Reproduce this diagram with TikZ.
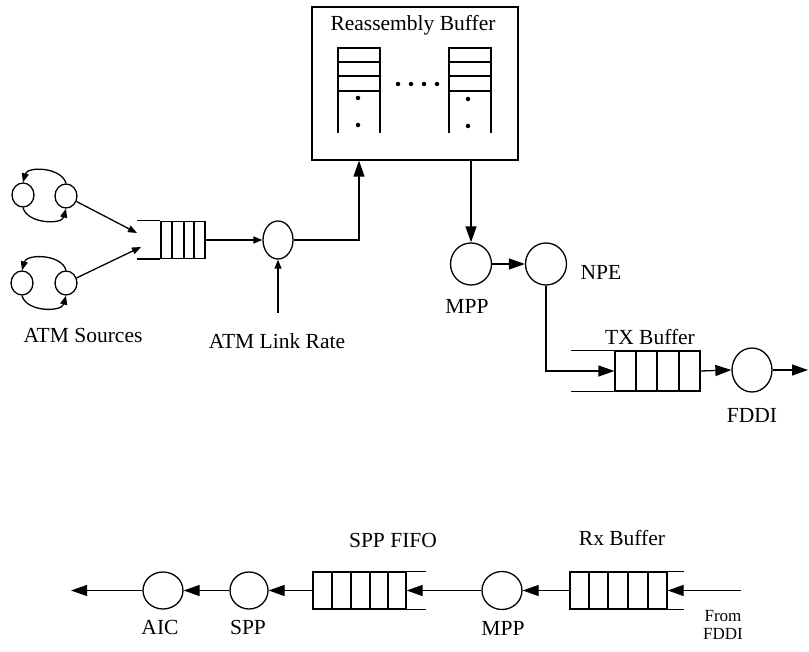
\documentclass[tikz,border=0pt]{standalone}
\usepackage{fontspec}
\setmainfont{Liberation Serif}
\usetikzlibrary{arrows.meta,shapes.geometric}
\begin{document}
\begin{tikzpicture}[x=1pt,y=-1pt,line width=1.3pt,
  arr/.style={-{Triangle[length=16pt,width=11pt]}},
  arrs/.style={-{Triangle[length=9pt,width=7pt]}},
  srv/.style={draw,ellipse,inner sep=0pt,minimum width=40pt,minimum height=40pt},
  srcnode/.style={draw,ellipse,inner sep=0pt,minimum width=22pt,minimum height=24pt},
  qbox/.style={draw,inner sep=0pt},
  lbl/.style={inner sep=0pt,font=\fontsize{21.5}{23}\selectfont},
  lblsmall/.style={inner sep=0pt,font=\fontsize{17}{18}\selectfont},
  dotmark/.style={circle,fill,inner sep=0pt,minimum size=4.5pt}]
\useasboundingbox (0,0) rectangle (809,652);

% ---------- ATM sources ----------
\node[srcnode] (s1a) at (23,195) {};
\node[srcnode] (s1b) at (66,196) {};
\node[srcnode] (s2a) at (22,283) {};
\node[srcnode] (s2b) at (66,283) {};
\draw[arrs] (s1b.north) to[out=105,in=75] (s1a.north);
\draw[arrs] (s1a.south) to[out=-75,in=-105] (s1b.south);
\draw[arrs] (s2b.north) to[out=105,in=75] (s2a.north);
\draw[arrs] (s2a.south) to[out=-75,in=-105] (s2b.south);
\node[lbl] (atms) at (83,335) {ATM Sources};

% ---------- ATM cell queue ----------
\node[qbox,minimum width=44pt,minimum height=37pt] (q1) at (183,240) {};
\foreach \x in {172,184,194} \draw (\x,221.5) -- (\x,258.5);
\draw (q1.north west) -- ++(-23,0);
\draw (q1.south west) -- ++(-23,0);
\coordinate (m1) at (137,233);
\coordinate (m2) at (141,247);
\draw[arrs] (s1b) -- (m1);
\draw[arrs] (s2b) -- (m2);

% ---------- ATM link server ----------
\node[srv,minimum width=30pt,minimum height=38pt] (lnk) at (278,240) {};
\draw[arrs] (q1.east) -- (lnk.west);
\coordinate (lr) at (278,313);
\draw[arrs] (lr) -- (lnk.south);
\node[lbl] (lrl) at (277,341) {ATM Link Rate};

% ---------- Reassembly buffer ----------
\node[draw,inner sep=0pt,minimum width=206pt,minimum height=153pt] (rb) at (415,83.5) {};
\node[lbl] (rbt) at (413,25) {Reassembly Buffer};
% left stack
\draw (338,133) -- (338,48) -- (380,48) -- (380,133);
\foreach \y in {62,76,91} \draw (338,\y) -- (380,\y);
\node[dotmark] (d1) at (358,98) {};
\node[dotmark] (d2) at (358,125) {};
% right stack
\draw (449,133) -- (449,48) -- (491,48) -- (491,133);
\foreach \y in {62,76,91} \draw (449,\y) -- (491,\y);
\node[dotmark] (d3) at (468,99) {};
\node[dotmark] (d4) at (468,126) {};
% dots between stacks
\foreach \x in {398,411,424,437} \node[dotmark] at (\x,84) {};
\draw[arr] (lnk.east) -| ([xshift=-56pt]rb.south);

% ---------- MPP / NPE ----------
\node[srv,minimum width=41pt,minimum height=42pt] (mpp1) at (471,264) {};
\node[srv,minimum width=41pt,minimum height=42pt] (npe) at (546,264) {};
\draw[arr] ([xshift=56pt]rb.south) -- (mpp1.north);
\draw[arr] (mpp1) -- (npe);
\node[lbl] (mppl) at (467,306) {MPP};
\node[lbl] (npel) at (601,272) {NPE};

% ---------- TX buffer ----------
\node[qbox,minimum width=85pt,minimum height=40pt] (q2) at (657.5,371) {};
\foreach \x in {636,657,679} \draw (\x,351) -- (\x,391);
\draw (q2.north west) -- ++(-43,0);
\draw (q2.south west) -- ++(-43,0);
\draw[arr] (npe.south) |- (q2.west);
\node[lbl] (txl) at (650,337) {TX Buffer};
\node[srv,minimum width=40pt,minimum height=44pt] (fd) at (752,370) {};
\draw[arr] (q2.east) -- (fd.west);
\coordinate (out1) at (808,370);
\draw[arr] (fd.east) -- (out1);
\node[lbl] (fdl) at (752,415) {FDDI};

% ---------- Receive path ----------
\node[qbox,minimum width=97pt,minimum height=37pt] (q4) at (618.5,590.5) {};
\foreach \x in {589,608,628,648} \draw (\x,572) -- (\x,609);
\draw (q4.north east) -- ++(16,0);
\draw (q4.south east) -- ++(16,0);
\node[lbl] (rxl) at (622,538) {Rx Buffer};
\coordinate (fromf) at (741,590.5);
\draw[arr] (fromf) -- (q4.east);
\node[lblsmall,align=center] (froml) at (723,625) {From\\FDDI};

\node[srv,minimum width=40pt,minimum height=38pt] (mpp2) at (502,590.5) {};
\draw[arr] (q4.west) -- (mpp2.east);
\node[lbl] (mpp2l) at (503,628) {MPP};

\node[qbox,minimum width=93pt,minimum height=37pt] (q3) at (359.5,590.5) {};
\foreach \x in {332,351,370,388} \draw (\x,572) -- (\x,609);
\draw (q3.north east) -- ++(19,0);
\draw (q3.south east) -- ++(19,0);
\draw[arr] (mpp2.west) -- (q3.east);
\node[lbl] (sppfl) at (393,540) {SPP FIFO};

\node[srv,minimum width=38pt,minimum height=37pt] (spp) at (249,590.5) {};
\draw[arr] (q3.west) -- (spp.east);
\node[lbl] (sppl) at (248,627) {SPP};

\node[srv,minimum width=40pt,minimum height=37pt] (aic) at (163,590.5) {};
\draw[arr] (spp.west) -- (aic.east);
\node[lbl] (aicl) at (160,627) {AIC};
\coordinate (out2) at (71,590.5);
\draw[arr] (aic.west) -- (out2);
\end{tikzpicture}
\end{document}
